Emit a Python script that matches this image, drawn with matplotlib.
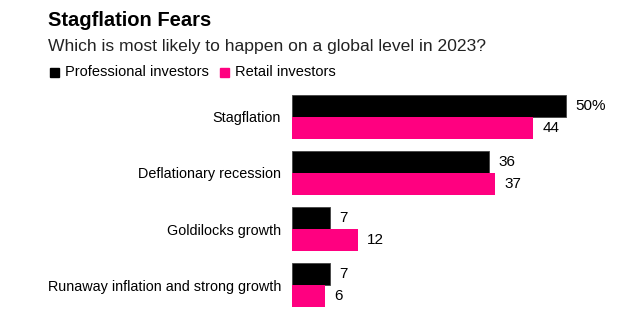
import matplotlib.pyplot as plt
import numpy as np

plt.rcParams['font.family'] = ['Liberation Sans', 'DejaVu Sans']

categories = ['Stagflation', 'Deflationary recession', 'Goldilocks growth',
              'Runaway inflation and strong growth']
professional = [50, 36, 7, 7]
retail = [44, 37, 12, 6]
series_names = ['Professional investors', 'Retail investors']

black = '#000000'
pink = '#ff0080'

fig = plt.figure(figsize=(6.32, 3.22), dpi=100)
W, H = 632, 322
ax = fig.add_axes([292 / W, 1 - 307 / H, 328 / W, 212 / H])

y = np.arange(len(categories))
h = 22 / 56
ax.barh(y - h / 2, professional, height=h, color=black, edgecolor='#444444', linewidth=0.6)
ax.barh(y + h / 2, retail, height=h, color=pink)

for i, (p, r) in enumerate(zip(professional, retail)):
    lab = f'{p}%' if i == 0 else str(p)
    ax.text(p + 1.7, i - h / 2, lab, va='center', ha='left', fontsize=11)
    ax.text(r + 1.7, i + h / 2, str(r), va='center', ha='left', fontsize=11)

ax.set_xlim(0, 328 / 5.48)
ax.set_ylim(len(categories) - 1 + h, -h)
ax.set_yticks(y)
ax.set_yticklabels(categories, fontsize=10.4)
ax.tick_params(axis='y', length=0, pad=8)
ax.set_xticks([])
for s in ax.spines.values():
    s.set_visible(False)

fig.text(48 / W, 1 - 21 / H, 'Stagflation Fears', fontsize=14.5, fontweight='bold', va='center')
fig.text(48 / W, 1 - 47 / H, 'Which is most likely to happen on a global level in 2023?',
         fontsize=12.6, va='center', color='#222222')

# legend row
fig.patches.append(plt.Rectangle((50 / W, 1 - 77 / H), 9 / W, 9 / H, color=black,
                                 transform=fig.transFigure, figure=fig))
fig.text(65 / W, 1 - 72.5 / H, series_names[0], fontsize=10.5, va='center')
fig.patches.append(plt.Rectangle((220 / W, 1 - 77 / H), 9 / W, 9 / H, color=pink,
                                 transform=fig.transFigure, figure=fig))
fig.text(235 / W, 1 - 72.5 / H, series_names[1], fontsize=10.5, va='center')

fig.savefig('out.png', dpi=100)
